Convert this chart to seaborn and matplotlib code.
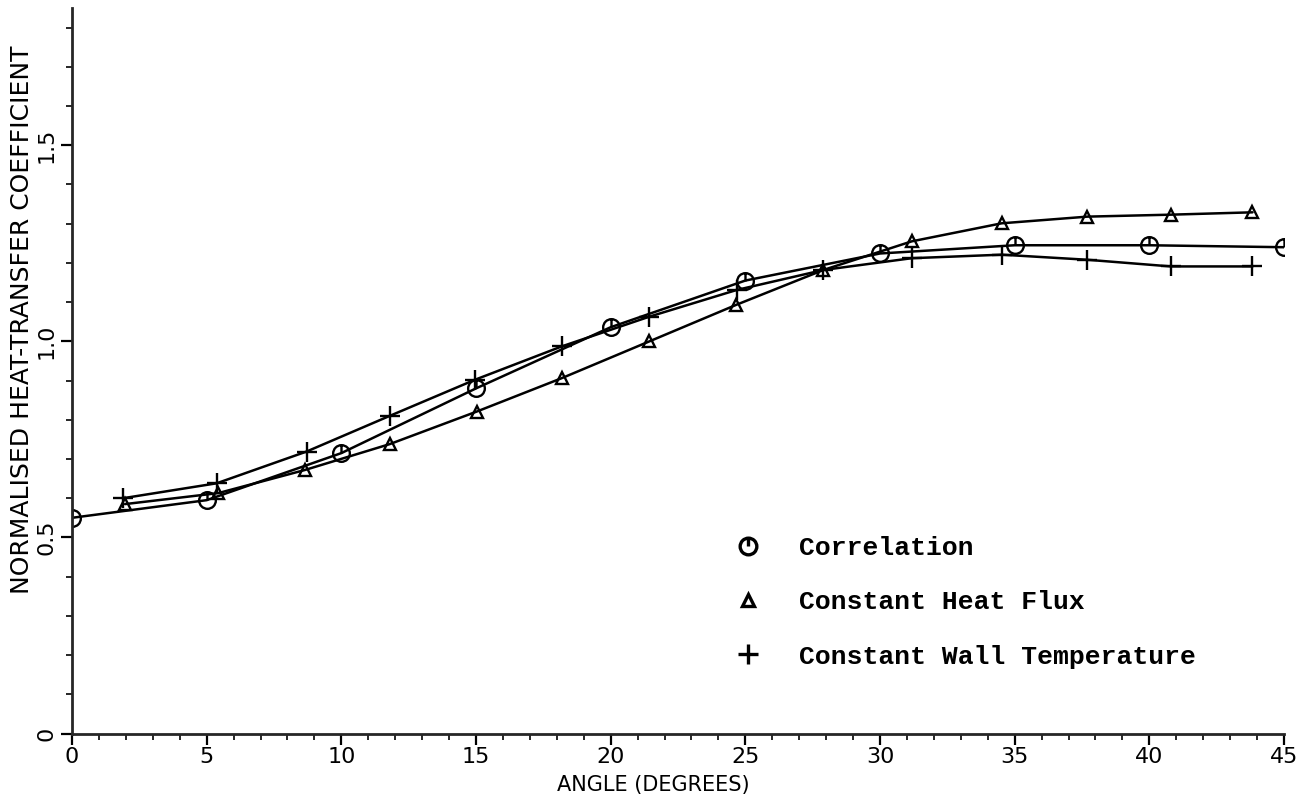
import numpy as np
import pandas as pd
import matplotlib
matplotlib.use("Agg")
import matplotlib.pyplot as plt
from matplotlib.path import Path
from matplotlib.lines import Line2D
from matplotlib.ticker import MultipleLocator
import seaborn as sns

# ---- data ----
corr_angle = [0, 5, 10, 15, 20, 25, 30, 35, 40, 45]
corr_value = [0.55, 0.595, 0.715, 0.88, 1.036, 1.155, 1.224, 1.245, 1.245, 1.24]

flux_angle = [1.97, 5.43, 8.65, 11.8, 15.03, 18.18, 21.44, 24.66, 27.9, 31.18, 34.52, 37.7, 40.8, 43.83]
flux_value = [0.585, 0.613, 0.672, 0.738, 0.821, 0.906, 1.0, 1.093, 1.182, 1.255, 1.301, 1.318, 1.323, 1.329]

wall_angle = [1.9, 5.37, 8.71, 11.8, 14.96, 18.18, 21.44, 24.68, 27.9, 31.18, 34.52, 37.7, 40.8, 43.83]
wall_value = [0.60, 0.638, 0.719, 0.81, 0.902, 0.987, 1.063, 1.131, 1.182, 1.212, 1.221, 1.208, 1.191, 1.191]

series_names = ["Correlation", "Constant Heat Flux", "Constant Wall Temperature"]
x_ticks = [0, 5, 10, 15, 20, 25, 30, 35, 40, 45]
y_ticks = [0, 0.5, 1.0, 1.5]
y_tick_labels = ["0", "0.5", "1.0", "1.5"]

sns.set_style("ticks")
plt.rcParams["font.family"] = ["DejaVu Sans"]
plt.rcParams["text.color"] = "black"
plt.rcParams["axes.labelcolor"] = "black"

fig = plt.figure(figsize=(13.14, 7.96), dpi=100)
ax = fig.add_axes([72 / 1314, (796 - 733.5) / 796, (1284 - 72) / 1314, (733.5 - 8) / 796])

circ_marker = Path.make_compound_path(Path.unit_circle(), Path([[0, 0], [0, 1]]))
markers = [circ_marker, "^", "+"]
msizes = [12, 9, 14]

frames = [
    pd.DataFrame({"angle": corr_angle, "value": corr_value}),
    pd.DataFrame({"angle": flux_angle, "value": flux_value}),
    pd.DataFrame({"angle": wall_angle, "value": wall_value}),
]

for df, mk, ms in zip(frames, markers, msizes):
    sns.lineplot(data=df, x="angle", y="value", ax=ax, color="black", lw=1.8,
                 marker=mk, markersize=ms, markerfacecolor="none",
                 markeredgecolor="black", markeredgewidth=1.7, sort=False)

ax.set_xlim(0, 45)
ax.set_ylim(0, 1.85)
ax.xaxis.set_major_locator(MultipleLocator(5))
ax.xaxis.set_minor_locator(MultipleLocator(1))
ax.set_yticks(y_ticks)
ax.set_yticklabels(y_tick_labels, rotation=90, va="center")
ax.yaxis.set_minor_locator(MultipleLocator(0.1))
ax.set_xticks(x_ticks)
ax.set_xticklabels([str(t) for t in x_ticks])

for sp in ["top", "right"]:
    ax.spines[sp].set_visible(False)
for sp in ["left", "bottom"]:
    ax.spines[sp].set_linewidth(2)

ax.tick_params(axis="both", which="major", direction="out", length=8, width=1.6,
               labelsize=16, color="black", labelcolor="black")
ax.tick_params(axis="both", which="minor", direction="out", length=4, width=1.4)
ax.tick_params(axis="x", pad=2)
ax.tick_params(axis="y", pad=3)

ax.set_xlabel("ANGLE (DEGREES)", fontsize=15, color="black")
ax.set_ylabel("NORMALISED HEAT-TRANSFER COEFFICIENT", fontsize=18, color="black")
ax.yaxis.set_label_coords(-0.031, 0.57)
ax.xaxis.set_label_coords(0.48, -0.057)

handles = [Line2D([], [], linestyle="none", marker=m, markersize=s, markerfacecolor="none",
                  markeredgecolor="black", markeredgewidth=2.4)
           for m, s in zip(markers, msizes)]
leg = ax.legend(handles, series_names, loc="upper left", bbox_to_anchor=(0.516, 0.305),
                frameon=False, labelspacing=1.15, handletextpad=0.95,
                prop={"family": "Liberation Mono", "size": 19, "weight": "bold"})

fig.savefig("out.png", dpi=100, facecolor="white")
